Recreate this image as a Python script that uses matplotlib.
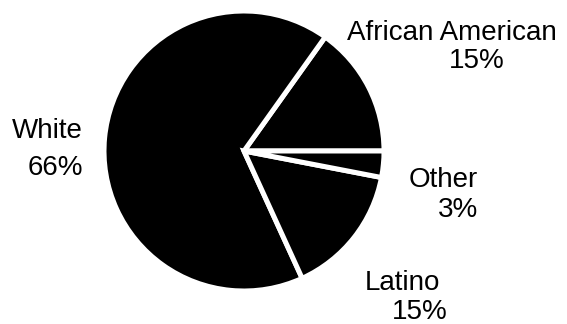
import matplotlib.pyplot as plt

groups = ["African American", "White", "Latino", "Other"]
shares = [15, 66, 15, 3]

fig = plt.figure(figsize=(5.67, 3.24), dpi=100)
ax = fig.add_axes([0, 0, 1, 1])

# pie drawn in pixel-like data coords (y up)
ax.pie(shares, startangle=0, counterclock=True, colors=["black"] * 4,
       center=(244, 173), radius=140, frame=True,
       wedgeprops=dict(edgecolor="white", linewidth=3.6))

ax.set_xlim(0, 567)
ax.set_ylim(0, 324)
ax.set_aspect("equal")
ax.axis("off")

# name x, percent x, name baseline, percent baseline
label_pos = {
    "African American": (452, 477, 284, 256),
    "White": (47, 55, 186, 149),
    "Latino": (402, 420, 34, 5),
    "Other": (443, 458, 137, 107),
}
for g, s in zip(groups, shares):
    xn, xp, yn, yp = label_pos[g]
    ax.text(xn, yn, g, ha="center", va="baseline", fontsize=20,
            family="Liberation Sans")
    ax.text(xp, yp, f"{s}%", ha="center", va="baseline", fontsize=20,
            family="Liberation Sans")

fig.savefig("out.png", dpi=100)
